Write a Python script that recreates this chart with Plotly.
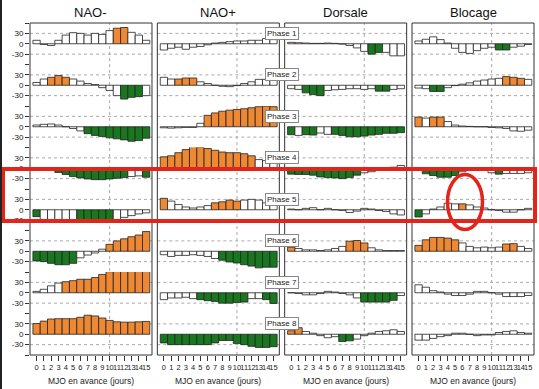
import plotly.graph_objects as go
from plotly.subplots import make_subplots

lags = list(range(16))
x_tick_labels = [str(i) for i in lags]
columns = ["NAO-", "NAO+", "Dorsale", "Blocage"]
phases = [f"Phase {i}" for i in range(1, 9)]
y_tick_vals = [-60, -30, 0, 30, 60]
y_tick_text = ["", "-30", "0", "30", ""]
x_title = "MJO en avance (jours)"

# values (%) per phase (rows) and lag 0..15; significance: o = positive, g = negative, w = not significant
nao_minus = [
    [10, -2, -5, 10, 25, 32, 30, 25, 30, 27, 38, 45, 47, 33, 25, 10],
    [8, 18, 23, 28, 23, 18, 12, 5, 2, -7, -15, -30, -40, -35, -33, -30],
    [5, 7, 8, 5, 0, -5, -12, -20, -25, -28, -32, -35, -38, -42, -40, -33],
    [-2, -3, -5, -12, -18, -24, -28, -31, -33, -33, -31, -29, -27, -24, -22, -26],
    [-20, -28, -30, -30, -32, -33, -36, -36, -36, -36, -36, -28, -22, -17, -12, -9],
    [-28, -30, -35, -39, -39, -35, -19, -11, -5, 6, 20, 30, 36, 42, 47, 57],
    [4, 10, 20, 28, 32, 35, 39, 39, 44, 53, 61, 67, 67, 70, 68, 68],
    [31, 38, 44, 45, 45, 45, 49, 55, 53, 47, 40, 36, 35, 35, 36, 37],
]
nao_minus_sig = [
    "wwwwwwwwwwwoowww", "wwooowwwwwwwgggw", "wwwwwwwggggggggg", "wwwggggggggggwwg",
    "gwwwwwgggggwwwww", "ggggggwwwwoooooo", "wwwwoooooooooooo", "oooooooooooooooo",
]
nao_plus = [
    [-18, -13, -10, -16, -10, -8, -3, 2, 4, 6, 8, 8, 10, 10, 15, 12],
    [23, 18, 18, 21, 21, 10, 5, 0, -3, -4, -1, 5, 10, 17, 17, 15],
    [-3, -4, -3, -2, -2, 10, 33, 40, 45, 48, 50, 52, 55, 58, 60, 58],
    [33, 36, 45, 54, 62, 60, 57, 52, 47, 45, 45, 42, 36, 25, 22, 15],
    [33, 25, 15, 8, 5, 8, 12, 20, 23, 28, 25, 28, 30, 28, 20, 15],
    [-10, -15, -12, -12, -10, -12, -15, -21, -26, -31, -34, -39, -43, -48, -46, -46],
    [-20, -15, -15, -13, -17, -20, -23, -25, -30, -30, -28, -27, -17, -17, -20, -31],
    [-25, -30, -30, -30, -30, -30, -30, -25, -18, -18, -27, -30, -35, -38, -38, -36],
]
nao_plus_sig = [
    "wwwwwwwwwwwwwwww", "wwooowwwwwwwwwww", "wwwwwwoooooooooo", "ooooooooooooowww",
    "owwwwwwoooowwwww", "wwwwwwwwgggggggg", "wwwwwgggggggwwgg", "gggggggggggggggg",
]
dorsale = [
    [4, 3, 2, 1, 1, 2, 1, -1, -5, -12, -22, -30, -25, -25, -35, -35],
    [-10, -12, -22, -27, -30, -15, -13, -12, -10, -10, -12, -10, -17, -17, -12, -10],
    [-23, -25, -23, -24, -18, -22, -22, -25, -29, -29, -27, -24, -22, -19, -19, -17],
    [-17, -18, -18, -20, -25, -27, -28, -30, -27, -20, -13, -10, -3, 0, 3, 8],
    [2, 0, 4, 6, 0, 4, 0, -2, -8, -4, 4, 2, -2, -5, -12, -15],
    [12, 8, 4, 4, 2, 4, 8, 14, 29, 31, 24, 10, 4, 2, 2, 2],
    [0, -2, -6, -6, -2, 4, 2, -2, -6, -15, -27, -27, -27, -27, -22, -8],
    [10, 19, 8, 3, -4, -10, -7, -21, -19, -14, -4, 3, 8, 10, 13, 8],
]
dorsale_sig = [
    "wwwwwwwwwwwggwww", "wwgggwwwwwwwggww", "gwggwwgggggggggg", "ggggggggggwwwwww",
    "wwwwwwwwwwwwwwww", "owwwwwwwooowwwww", "wwwwwwwwwwgggggw", "oowwwwwggwwwwwww",
]
blocage = [
    [8, 13, 20, 12, 2, -13, -25, -28, -20, -13, -10, -18, -18, -10, -7, -2],
    [-8, -10, -18, -18, -7, -1, 3, 7, 12, 15, 18, 20, 25, 23, 20, 17],
    [28, 25, 28, 28, 15, 5, 2, 1, 0, 0, -2, -3, -5, -12, -13, -10],
    [-6, -16, -21, -26, -26, -21, -10, -6, -6, -6, -13, -17, -15, -15, -15, -13],
    [-21, -12, 2, 8, 19, 17, 17, 14, 8, 5, 0, -2, -7, -7, 0, 4],
    [17, 33, 40, 40, 38, 33, 24, 14, 10, 12, 10, 12, 21, 22, 14, 8],
    [23, 16, 6, 2, -4, -8, -8, -4, 4, 4, 0, -4, -11, -11, -11, -8],
    [-17, -17, -12, -7, -4, 3, 3, 0, -4, -2, -2, 5, 8, 10, 5, 3],
]
blocage_sig = [
    "wwwwwwwwwwwggwww", "wwggwwwwwwwwooow", "owoowwwwwwwwwwww", "wgggggwwwwwgwwww",
    "gwwwwwowwwwwwwww", "oooooowwwwwwooww", "wwwwwwwwwwwwwwww", "wwwwwwwwwwwwwwww",
]

ORANGE = "#EE8833"
GREEN = "#18771F"
FILL = {"o": ORANGE, "g": GREEN, "w": "#FFFFFF"}
FONT = "Liberation Sans, Arial, sans-serif"

all_values = [nao_minus, nao_plus, dorsale, blocage]
all_sigs = [nao_minus_sig, nao_plus_sig, dorsale_sig, blocage_sig]

W, H = 539, 389
ML, MR, MT, MB = 30, 5, 23, 34
PW, PH = W - ML - MR, H - MT - MB


def px_x(p):
    return (p - ML) / PW


def px_y(p):
    return (H - MB - p) / PH


fig = make_subplots(rows=8, cols=4, vertical_spacing=0, horizontal_spacing=0.0106)


def idx(r, c):
    return r * 4 + c + 1


def ax(prefix, n):
    return prefix if n == 1 else f"{prefix}{n}"


for c in range(4):
    for r in range(8):
        fig.add_trace(
            go.Bar(
                x=lags,
                y=all_values[c][r],
                width=1,
                marker=dict(color=[FILL[s] for s in all_sigs[c][r]],
                            line=dict(color="#222222", width=0.8)),
                cliponaxis=False,
                showlegend=False,
                hoverinfo="skip",
            ),
            row=r + 1, col=c + 1,
        )

for c in range(4):
    for r in range(8):
        n = idx(r, c)
        bottom = (r == 7)
        left = (c == 0)
        fig.layout[ax("xaxis", n)].update(
            range=[-0.9, 15.8], showgrid=False, zeroline=False, showline=False,
            tickmode="array", tickvals=lags, ticktext=x_tick_labels,
            showticklabels=bottom, ticks="outside" if bottom else "", ticklen=5, tickwidth=1,
            tickcolor="#333333", tickangle=0, fixedrange=True, automargin=False,
            tickfont=dict(size=7.5, color="#222222", family=FONT))
        fig.layout[ax("yaxis", n)].update(
            range=[-60, 60], showgrid=False, zeroline=False, showline=False,
            tickmode="array", tickvals=y_tick_vals, ticktext=y_tick_text,
            showticklabels=left, ticks="outside" if left else "", ticklen=4, tickwidth=1,
            tickcolor="#333333", fixedrange=True, automargin=False,
            tickfont=dict(size=8, color="#222222", family=FONT))

shapes = []
annotations = []
for c in range(4):
    dom = fig.layout[ax("xaxis", idx(0, c))].domain
    # dotted vertical reference at lag 10
    shapes.append(dict(type="line", xref=ax("x", idx(0, c)), yref="paper", x0=10, x1=10,
                       y0=0, y1=1, line=dict(color="#AAAAAA", width=1, dash="dot"), layer="below"))
    for r in range(8):
        n = idx(r, c)
        for yv in (30, -30):
            shapes.append(dict(type="line", xref=f"{ax('x', n)} domain", yref=ax("y", n),
                               x0=0, x1=1, y0=yv, y1=yv,
                               line=dict(color="#AAAAAA", width=1, dash="dot"), layer="below"))
    shapes.append(dict(type="rect", xref="paper", yref="paper", x0=dom[0], x1=dom[1], y0=0, y1=1,
                       line=dict(color="#333333", width=1)))
    annotations.append(dict(text=columns[c], xref="paper", yref="paper", x=(dom[0] + dom[1]) / 2,
                            y=px_y(12), showarrow=False, xanchor="center", yanchor="middle",
                            font=dict(size=13, color="#111111", family=FONT)))
    annotations.append(dict(text=x_title, xref="paper", yref="paper", x=(dom[0] + dom[1]) / 2,
                            y=px_y(381), showarrow=False, xanchor="center", yanchor="middle",
                            font=dict(size=8.5, color="#222222", family=FONT)))

for r in range(8):
    annotations.append(dict(text=phases[r], xref="paper", yref=ax("y", idx(r, 2)), x=0.5, y=30,
                            showarrow=False, xanchor="center", yanchor="middle",
                            font=dict(size=8, color="#222222", family=FONT),
                            bgcolor="#FFFFFF", bordercolor="#888888", borderwidth=1, borderpad=1))

# red highlight rectangle (phases 4-5) and red ellipse
shapes.append(dict(type="rect", xref="paper", yref="paper", x0=px_x(3), x1=px_x(535),
                   y0=px_y(221), y1=px_y(169), line=dict(color="#E3241B", width=4)))
shapes.append(dict(type="circle", xref="paper", yref="paper", x0=px_x(447.5), x1=px_x(482.5),
                   y0=px_y(229.5), y1=px_y(174.5), line=dict(color="#E3241B", width=3.5)))
# dark left edge of the picture
shapes.append(dict(type="line", xref="paper", yref="paper", x0=px_x(1), x1=px_x(1),
                   y0=px_y(389), y1=px_y(0), line=dict(color="#222222", width=2)))

fig.update_layout(
    width=W, height=H,
    margin=dict(l=ML, r=MR, t=MT, b=MB),
    paper_bgcolor="#FFFFFF", plot_bgcolor="rgba(0,0,0,0)",
    bargap=0, showlegend=False, hovermode=False,
    font=dict(family=FONT, color="#222222"),
    shapes=shapes, annotations=annotations,
)

fig.write_html("out.html", config={"displayModeBar": False, "staticPlot": True},
               post_script="document.body.style.margin='0';")
